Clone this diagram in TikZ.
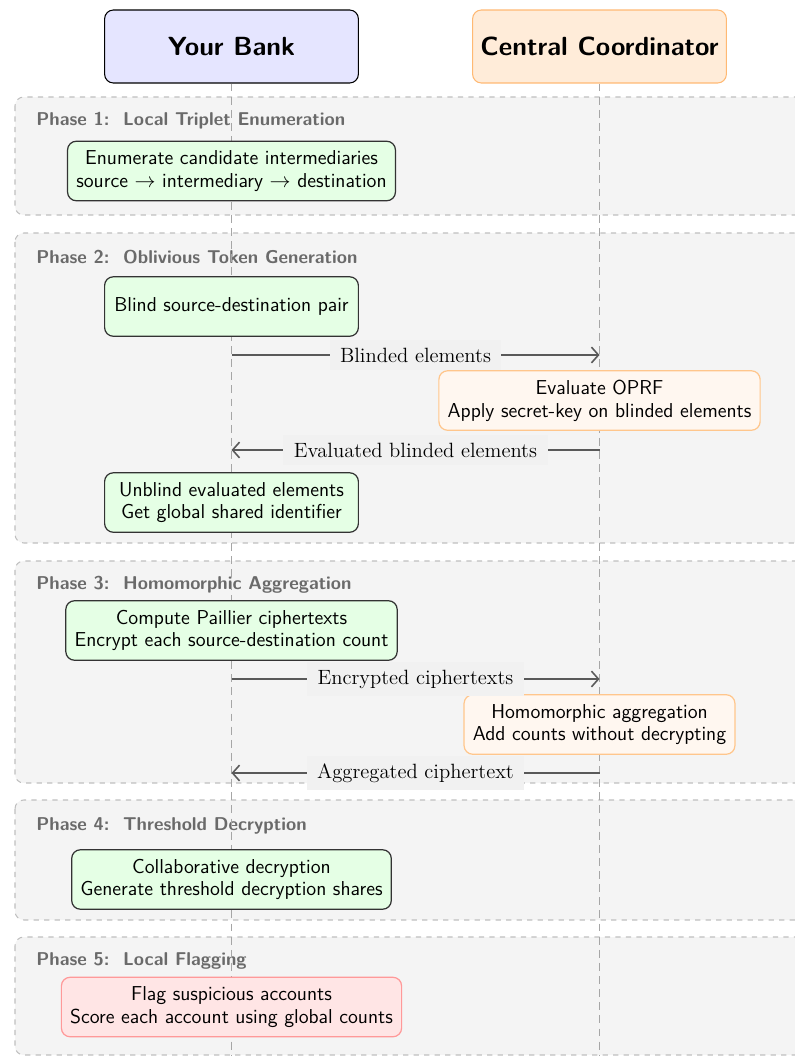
\documentclass[tikz,border=0pt]{standalone}
\usetikzlibrary{arrows.meta}
\definecolor{phasebg}{HTML}{F4F4F4}
\definecolor{lblbg}{HTML}{F1F1F1}
\definecolor{phasetxt}{HTML}{6A6A6A}
\newcommand{\bodyfont}{\fontsize{11.5}{13}\selectfont}
\begin{document}
\begin{tikzpicture}[x=0.5714pt,y=-0.5714pt,
  font=\sffamily\bodyfont,
  phase/.style={draw=black!25, dashed, fill=phasebg, rounded corners=5pt, line width=0.6pt},
  phasetitle/.style={anchor=west, font=\sffamily\bfseries\fontsize{10.6}{12}\selectfont, text=phasetxt, inner sep=0pt},
  actor/.style={rounded corners=5pt, minimum width=145pt, minimum height=41.7pt, font=\sffamily\bfseries\fontsize{15}{18}\selectfont, line width=0.6pt},
  bankstep/.style={draw=black!80, fill=green!10, rounded corners=5pt, minimum width=145pt, minimum height=34pt, inner xsep=5pt, inner ysep=3pt, align=center, line width=0.7pt},
  coordstep/.style={draw=orange!45, fill=orange!6, rounded corners=5pt, minimum width=145pt, minimum height=34pt, inner xsep=5pt, inner ysep=3pt, align=center, line width=0.7pt},
  flagstep/.style={draw=red!40, fill=red!10, rounded corners=5pt, minimum width=145pt, minimum height=34pt, inner xsep=5pt, inner ysep=3pt, align=center, line width=0.7pt},
  life/.style={draw=black!35, line width=0.6pt, dash pattern=on 4.5pt off 3pt},
  msg/.style={draw=black!65, line width=0.9pt, -{Straight Barb[length=4pt,width=9pt]}},
  lbl/.style={fill=lblbg, font=\rmfamily\fontsize{11.8}{13}\selectfont, inner xsep=6pt, inner ysep=4.5pt}
]
\clip (0,0) rectangle (795,1056);
% phases
\draw[phase] (15,97) rectangle (840,215);
\draw[phase] (15,233) rectangle (840,543);
\draw[phase] (15,561) rectangle (840,783);
\draw[phase] (15,800) rectangle (840,920);
\draw[phase] (15,937) rectangle (840,1055);
\node[phasetitle] (t1) at (36,121) {Phase 1:\ \ Local Triplet Enumeration};
\node[phasetitle] (t2) at (36,257) {Phase 2:\ \ Oblivious Token Generation};
\node[phasetitle] (t3) at (36,585) {Phase 3:\ \ Homomorphic Aggregation};
\node[phasetitle] (t4) at (36,826) {Phase 4:\ \ Threshold Decryption};
\node[phasetitle] (t5) at (36,961) {Phase 5:\ \ Local Flagging};
% actors
\node[actor, draw=black, fill=blue!10] (bank) at (231.5,46.5) {Your Bank};
\node[actor, draw=orange!55, fill=orange!15] (coord) at (599.5,46.5) {Central Coordinator};
\coordinate (bankend) at (231.5,1060);
\coordinate (coordend) at (599.5,1060);
\draw[life] (bank.south) -- (bankend);
\draw[life] (coord.south) -- (coordend);
% steps
\node[bankstep] (enum) at (231.5,171) {Enumerate candidate intermediaries\\source $\rightarrow$ intermediary $\rightarrow$ destination};
\node[bankstep] (blind) at (231.5,306.5) {Blind source-destination pair};
\node[coordstep] (oprf) at (599.5,400.5) {Evaluate OPRF\\Apply secret-key on blinded elements};
\node[bankstep] (unblind) at (231.5,502.5) {Unblind evaluated elements\\Get global shared identifier};
\node[bankstep] (paillier) at (231.5,630.5) {Compute Paillier ciphertexts\\Encrypt each source-destination count};
\node[coordstep] (homagg) at (599.5,724.5) {Homomorphic aggregation\\Add counts without decrypting};
\node[bankstep] (collab) at (231.5,879.5) {Collaborative decryption\\Generate threshold decryption shares};
\node[flagstep] (flag) at (231.5,1007) {Flag suspicious accounts\\Score each account using global counts};
% messages
\coordinate (b1) at (231.5,355); \coordinate (c1) at (599.5,355);
\coordinate (b2) at (231.5,450); \coordinate (c2) at (599.5,450);
\coordinate (b3) at (231.5,679); \coordinate (c3) at (599.5,679);
\coordinate (b4) at (231.5,773); \coordinate (c4) at (599.5,773);
\draw[msg] (b1) -- node[lbl] (m1) {Blinded elements} (c1);
\draw[msg] (c2) -- node[lbl] (m2) {Evaluated blinded elements} (b2);
\draw[msg] (b3) -- node[lbl] (m3) {Encrypted ciphertexts} (c3);
\draw[msg] (c4) -- node[lbl] (m4) {Aggregated ciphertext} (b4);
\end{tikzpicture}
\end{document}
